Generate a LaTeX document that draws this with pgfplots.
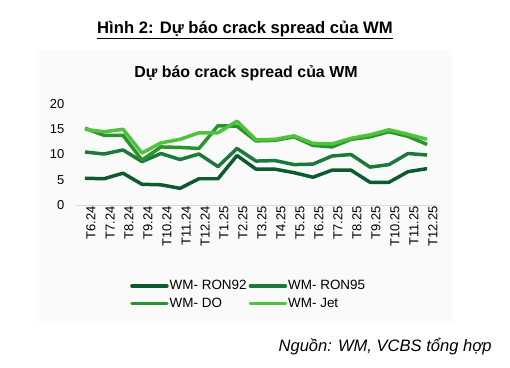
\documentclass[border=0pt]{standalone}
\usepackage{pgfplots}
\pgfplotsset{compat=1.18}
\usepackage{fontspec}
\setmainfont{Liberation Sans}
\definecolor{cA}{HTML}{0E5A30}
\definecolor{cB}{HTML}{1B7A3A}
\definecolor{cC}{HTML}{2B932E}
\definecolor{cD}{HTML}{4EC43C}
\begin{document}
\begin{tikzpicture}[x=1bp,y=1bp]
\path[use as bounding box] (0,0) rectangle (510,367);
\fill[black!2] (37,45) rectangle (452,317);
\node[font=\bfseries\fontsize{16.7}{19}\selectfont] at (245,337) {\underline{Hình 2: Dự báo crack spread của WM}};
\node[font=\bfseries\fontsize{16}{19}\selectfont] at (246,294) {Dự báo crack spread của WM};
\node[font=\itshape\fontsize{16.6}{19}\selectfont, anchor=east] at (495,20) {Nguồn: WM, VCBS tổng hợp};
\begin{axis}[at={(75.5bp,162bp)}, anchor=south west, width=361bp, height=101bp, scale only axis,
  xmin=-0.5, xmax=18.5, ymin=0, ymax=20,
  axis x line*=bottom, axis y line*=left,
  x axis line style={draw=black!15, line width=0.8pt, -},
  y axis line style={draw=none},
  major tick length=0pt,
  xtick={0,...,18},
  xticklabels={T6.24,T7.24,T8.24,T9.24,T10.24,T11.24,T12.24,T1.25,T2.25,T3.25,T4.25,T5.25,T6.25,T7.25,T8.25,T9.25,T10.25,T11.25,T12.25},
  ytick={0,5,10,15,20},
  tick label style={font=\fontsize{13}{15}\selectfont},
  /pgf/number format/assume math mode=true,
  xticklabel style={rotate=90, anchor=east, inner sep=1bp, yshift=-6bp},
  yticklabel style={inner sep=1bp, xshift=-10bp},
  legend columns=2,
  legend style={at={(0.151,-0.735)}, anchor=north west, draw=none, fill=none,
    font=\fontsize{13.5}{15}\selectfont, row sep=4.5bp, column sep=0bp, inner sep=0pt,
    nodes={inner sep=1bp}},
  legend cell align=left,
  legend image code/.code={\draw[#1, line width=3.5pt, line cap=round] (0bp,0bp) -- (35bp,0bp);},
  every axis plot/.append style={line width=3.5pt, line join=round, mark=none},
]
\addplot[cA] coordinates {(0,5.3)(1,5.2)(2,6.3)(3,4.1)(4,4.0)(5,3.3)(6,5.2)(7,5.2)(8,9.8)(9,7.1)(10,7.1)(11,6.4)(12,5.5)(13,6.9)(14,6.9)(15,4.5)(16,4.5)(17,6.6)(18,7.2)};
\addlegendentry{\makebox[78bp][l]{WM- RON92}}
\addplot[cB] coordinates {(0,10.5)(1,10.1)(2,10.9)(3,8.6)(4,10.2)(5,9.0)(6,10.1)(7,7.6)(8,11.2)(9,8.7)(10,8.8)(11,8.0)(12,8.1)(13,9.7)(14,10.0)(15,7.5)(16,8.0)(17,10.2)(18,9.9)};
\addlegendentry{WM- RON95}
\addplot[cC] coordinates {(0,15.2)(1,13.8)(2,13.8)(3,8.9)(4,11.5)(5,11.4)(6,11.2)(7,15.7)(8,15.6)(9,12.7)(10,12.8)(11,13.5)(12,11.8)(13,11.5)(14,13.0)(15,13.5)(16,14.5)(17,13.6)(18,12.0)};
\addlegendentry{\makebox[78bp][l]{WM- DO}}
\addplot[cD] coordinates {(0,15.0)(1,14.5)(2,15.0)(3,10.3)(4,12.3)(5,13.0)(6,14.3)(7,14.3)(8,16.6)(9,12.9)(10,13.0)(11,13.7)(12,12.2)(13,12.1)(14,13.2)(15,13.9)(16,14.9)(17,14.0)(18,13.0)};
\addlegendentry{WM- Jet}
\end{axis}
\end{tikzpicture}
\end{document}
